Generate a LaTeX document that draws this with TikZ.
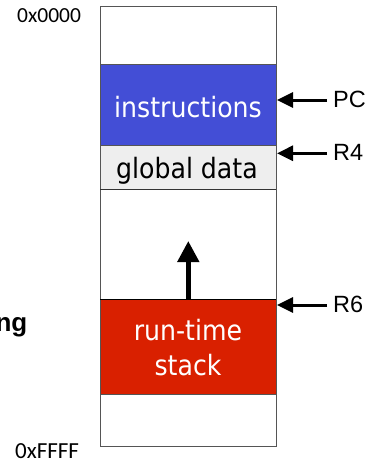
\documentclass[tikz,border=0pt]{standalone}
\usepackage{fontspec}
\setmainfont{Liberation Sans}
\newfontfamily\boxfont{DejaVu Sans Condensed}
\newfontfamily\addrfont{Carlito}
\usetikzlibrary{arrows.meta}
\definecolor{instrblue}{HTML}{434ED6}
\definecolor{stackred}{HTML}{D92000}
\definecolor{globgray}{HTML}{EEEEEE}
\definecolor{edgegray}{HTML}{555555}
\begin{document}
\begin{tikzpicture}[x=1pt,y=-1pt,
  region/.style={draw=edgegray,line width=0.8pt,inner sep=0pt,outer sep=0pt,
    minimum width=176pt,anchor=north west},
  boxlabel/.style={font=\boxfont\fontsize{28}{30}\selectfont,inner sep=0pt,anchor=base},
  reglabel/.style={font=\fontsize{23.5}{25}\selectfont,inner sep=0pt,anchor=base west},
  addrlabel/.style={font=\addrfont\fontsize{21.5}{24}\selectfont,inner sep=0pt,anchor=base west},
  ptr/.style={line width=3pt,-{Triangle[length=16pt,width=15pt]}},
  growarrow/.style={line width=4.7pt,-{Triangle[length=21pt,width=21pt]}}]
\useasboundingbox (0,0) rectangle (369,461);

% memory column and its regions
\node[region,minimum height=440pt] (mem) at (100,6) {};
\node[region,fill=instrblue,minimum height=81.4pt] (instr) at (100,64.3) {};
\node[region,fill=globgray,minimum height=43.6pt] (glob) at (100,145.7) {};
\node[region,fill=stackred,minimum height=94.7pt] (stk) at (100,299.3) {};
\draw[line width=1.2pt] (stk.north west) -- (stk.north east);
\draw[line width=1.2pt,draw=black!80] (glob.south west) -- (glob.south east);

% region names
\node[boxlabel,text=white] (tinstr) at (188,117.3) {instructions};
\node[boxlabel] (tglob) at (187,178.3) {global data};
\node[boxlabel,text=white] (trun) at (188,340.7) {run-time};
\node[boxlabel,text=white] (tstk) at (188,375) {stack};

% stack growth
\coordinate (growtip) at (188.3,241);
\draw[growarrow] (stk.north -| growtip) -- (growtip);

% register pointers
\node[reglabel] (pc) at (333,107.8) {PC};
\node[reglabel] (r4) at (333,160.8) {R4};
\node[reglabel] (r6) at (333,312.5) {R6};
\coordinate (pcend) at (277,100);
\coordinate (r4end) at (277,153.3);
\coordinate (r6end) at (277,305);
\draw[ptr] (327,100) -- (pcend);
\draw[ptr] (327,153.3) -- (r4end);
\draw[ptr] (327,305) -- (r6end);

% address bounds
\node[addrlabel] (lo) at (17,22.7) {0x0000};
\node[addrlabel,font=\addrfont\fontsize{23}{25}\selectfont] (hi) at (15,458.5) {0xFFFF};

% side caption, running off the left edge
\node[font=\bfseries\fontsize{26}{28}\selectfont,inner sep=0pt,anchor=base east] (cap) at (27.5,331.5) {ng};
\end{tikzpicture}
\end{document}
